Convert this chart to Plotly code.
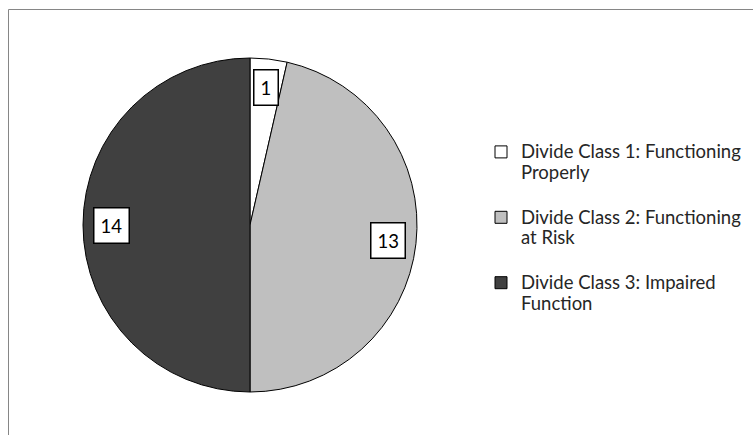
import math
import plotly.graph_objects as go

categories = ["Divide Class 1: Functioning<br>Properly",
              "Divide Class 2: Functioning<br>at Risk",
              "Divide Class 3: Impaired<br>Function"]
values = [1, 13, 14]
colors = ["#ffffff", "#bfbfbf", "#404040"]

W, H = 753, 435
cx, cy, R = 250, 225, 167

legend_labels = ["<span style='font-size:18.5px'>" + c.replace("<br>", "</span><br><span style='font-size:18.5px'>") + "</span><br> "
                 for c in categories]

fig = go.Figure()
fig.add_trace(go.Pie(
    labels=legend_labels,
    values=values,
    sort=False,
    direction="clockwise",
    rotation=0,
    marker=dict(colors=colors, line=dict(color="#000000", width=1)),
    textinfo="none",
    hoverinfo="value",
    domain=dict(x=[(cx - R) / W, (cx + R) / W], y=[1 - (cy + R) / H, 1 - (cy - R) / H]),
))

# value labels in boxes, placed from the data's slice angles
total = sum(values)
cum = 0
annotations = []
for v in values:
    mid = (cum + v / 2) / total * 2 * math.pi
    cum += v
    px = cx + 0.83 * R * math.sin(mid)
    py = cy - 0.83 * R * math.cos(mid)
    annotations.append(dict(
        x=px / W, y=1 - py / H, xref="paper", yref="paper",
        text=str(v), showarrow=False,
        font=dict(family="Lato, Liberation Sans, sans-serif", size=18.5, color="#000000"),
        bgcolor="#ffffff", bordercolor="#000000", borderwidth=1.5, borderpad=6,
        xanchor="center", yanchor="middle",
    ))

fig.update_layout(
    width=W, height=H,
    margin=dict(l=0, r=0, t=0, b=0),
    paper_bgcolor="#ffffff",
    plot_bgcolor="#ffffff",
    annotations=annotations,
    showlegend=True,
    legend=dict(
        x=481 / W, y=1 - 135 / H, xanchor="left", yanchor="top",
        font=dict(family="Lato, Liberation Sans, sans-serif", size=16, color="#262626"),
        valign="top", traceorder="normal",
        bgcolor="rgba(0,0,0,0)",
    ),
    shapes=[dict(type="rect", xref="paper", yref="paper",
                 x0=8.5 / W, x1=1.2, y0=-0.2, y1=1 - 9.5 / H,
                 line=dict(color="#868686", width=1), fillcolor="rgba(0,0,0,0)")],
)

fig.write_html("out.html")
